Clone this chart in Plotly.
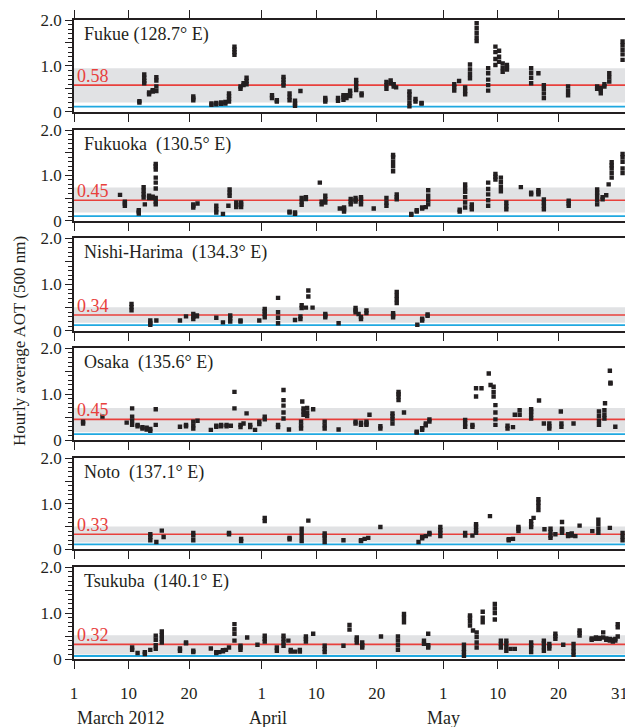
import plotly.graph_objects as go

# ---------------- data (day index: 1 = 1 March 2012, 32 = 1 April, 62 = 1 May, 92 = 31 May)
stations = ["Fukue\u00a0(128.7° E)", "Fukuoka\u00a0\u00a0(130.5° E)", "Nishi-Harima\u00a0\u00a0(134.3° E)",
            "Osaka\u00a0\u00a0(135.6° E)", "Noto\u00a0\u00a0(137.1° E)", "Tsukuba\u00a0\u00a0(140.1° E)"]
mean_aot = [0.58, 0.45, 0.34, 0.45, 0.33, 0.32]
band_low = [0.20, 0.18, 0.17, 0.17, 0.15, 0.10]
band_high = [0.95, 0.73, 0.51, 0.70, 0.50, 0.52]
baseline = [0.11, 0.10, 0.12, 0.13, 0.11, 0.065]

fukue_days = [11.8, 12.6, 13.4, 14.0, 14.6, 20.7, 23.7, 24.5, 25.3, 26.0, 26.6, 27.5, 28.5, 29.0, 29.5,
              33.7, 34.5, 35.6, 36.6, 37.5, 38.4, 42.5, 44.6, 45.5, 46.0, 46.6, 47.6, 48.5, 52.6, 53.3,
              53.8, 54.2, 56.4, 57.4, 58.4, 63.8, 64.6, 65.6, 66.4, 67.5, 69.4, 70.6, 71.2, 71.8, 72.5,
              76.5, 77.7, 78.6, 82.6, 87.4, 88.0, 88.6, 89.4, 91.6]
fukue_aot = [[0.20, 0.23], [0.62, 0.67, 0.74, 0.81], [0.38, 0.42], [0.44, 0.47], [0.45, 0.55, 0.68, 0.75],
             [0.25, 0.29, 0.33], [0.15, 0.18], [0.16, 0.19], [0.17, 0.20], [0.18, 0.21], [0.22, 0.28, 0.34, 0.40],
             [1.24, 1.30, 1.36, 1.42], [0.50, 0.55], [0.58, 0.62], [0.60, 0.67, 0.74],
             [0.30, 0.36], [0.22, 0.25], [0.57, 0.63, 0.70, 0.76], [0.25, 0.32, 0.40], [0.13, 0.18, 0.24],
             [0.45], [0.22, 0.26, 0.30], [0.24, 0.30], [0.26, 0.32, 0.36], [0.30, 0.36], [0.34, 0.40, 0.46],
             [0.47, 0.55, 0.62, 0.69], [0.36, 0.40], [0.50, 0.58, 0.65], [0.62, 0.68],
             [0.55, 0.60], [0.53], [0.12, 0.20, 0.30, 0.38, 0.44], [0.22, 0.28], [0.18, 0.19],
             [0.46, 0.54, 0.60], [0.67], [0.38, 0.45, 0.53], [0.73, 0.82, 0.92, 1.03],
             [1.54, 1.62, 1.72, 1.82, 1.93], [0.46, 0.58, 0.70, 0.84, 0.95], [1.02, 1.15, 1.30, 1.42],
             [1.09, 1.20, 1.33], [0.87, 0.95, 1.05], [0.92, 0.97, 1.02],
             [0.62, 0.74, 0.85, 0.95], [0.84], [0.30, 0.40, 0.50, 0.58], [0.36, 0.45, 0.55],
             [0.50, 0.55], [0.40, 0.47, 0.52], [0.55, 0.60], [0.66, 0.75, 0.84], [1.13, 1.25, 1.35, 1.45, 1.53]]

fukuoka_days = [8.6, 9.4, 11.7, 12.5, 12.7, 13.4, 14.0, 14.5, 20.7, 21.4, 24.5, 25.6, 26.5, 26.7, 27.8, 28.6,
                36.6, 37.5, 38.6, 39.3, 41.6, 41.9, 42.5, 44.9, 45.6, 46.7, 47.5, 48.4, 50.5, 52.6, 53.7,
                54.3, 56.7, 57.6, 58.5, 59.1, 59.5, 64.7, 65.6, 66.7, 69.4, 70.6, 71.5, 72.4, 74.8, 76.5,
                77.7, 78.6, 82.7, 87.4, 88.3, 88.9, 89.3, 89.8, 91.6]
fukuoka_aot = [[0.57], [0.33, 0.38, 0.42], [0.16, 0.20, 0.23], [0.51, 0.58, 0.66, 0.74], [0.36], [0.50, 0.55],
               [0.50, 0.53], [1.13, 1.20, 1.25, 0.95, 0.84, 0.71, 0.50, 0.42, 0.36], [0.29, 0.33, 0.36], [0.38],
               [0.18, 0.25, 0.33], [0.15], [0.33], [0.55, 0.62, 0.69], [0.30, 0.35, 0.40], [0.30, 0.36, 0.40],
               [0.18, 0.20], [0.15, 0.18], [0.35, 0.42, 0.50], [0.52, 0.48], [0.84], [0.36, 0.42],
               [0.40, 0.47, 0.55], [0.27], [0.20, 0.25, 0.29], [0.36, 0.42, 0.48], [0.42, 0.46, 0.50],
               [0.36, 0.42, 0.48, 0.52], [0.27], [0.33, 0.40, 0.50], [1.09, 1.20, 1.30, 1.40, 1.45],
               [0.47, 0.52, 0.58], [0.13, 0.15], [0.20, 0.23], [0.27, 0.29], [0.30], [0.36, 0.45, 0.55, 0.67],
               [0.20, 0.24], [0.29, 0.40, 0.52, 0.64, 0.72, 0.80], [0.25, 0.30, 0.36], [0.33, 0.45, 0.58, 0.70, 0.84],
               [0.91, 0.97, 1.03], [0.65, 0.75, 0.85, 0.95], [0.25, 0.32, 0.40], [0.74], [0.58, 0.62],
               [0.58, 0.63, 0.67], [0.25, 0.33, 0.40, 0.47], [0.33, 0.38, 0.44], [0.36, 0.45, 0.55, 0.62, 0.69],
               [0.47, 0.52], [0.56], [0.80], [0.95, 1.05, 1.15, 1.22, 1.29], [1.05, 1.15, 1.30, 1.40, 1.47]]

nishi_days = [10.5, 13.6, 14.6, 18.5, 19.5, 20.7, 21.3, 24.5, 25.6, 26.8, 28.5, 31.6, 32.5, 34.7, 37.5, 38.4,
              38.6, 39.3, 39.7, 40.4, 42.5, 44.7, 47.5, 48.0, 48.4, 49.3, 53.7, 54.3, 57.7, 58.5, 59.4]
nishi_aot = [[0.44, 0.51, 0.58], [0.13, 0.17, 0.22], [0.22], [0.22], [0.31], [0.25, 0.30, 0.36], [0.33, 0.31],
             [0.28], [0.18], [0.20, 0.27, 0.33], [0.20, 0.22], [0.22], [0.29, 0.36, 0.42, 0.47],
             [0.71, 0.40, 0.28, 0.16], [0.23], [0.25, 0.31], [0.49, 0.55], [0.50], [0.74, 0.87], [0.50],
             [0.29, 0.33, 0.36], [0.16], [0.40, 0.44, 0.49], [0.36], [0.25, 0.30], [0.38, 0.44],
             [0.29, 0.34, 0.38], [0.60, 0.68, 0.76, 0.84], [0.13], [0.22, 0.26], [0.32, 0.35]]

osaka_days = [2.5, 5.7, 9.7, 10.6, 11.5, 12.3, 13.0, 13.6, 14.5, 18.5, 19.5, 20.7, 21.4, 23.6, 24.5, 25.3, 26.2,
              26.9, 27.5, 28.5, 29.0, 29.5, 30.1, 30.9, 31.6, 32.5, 34.7, 35.6, 36.5, 38.5, 38.7, 38.9, 39.5,
              40.5, 42.4, 44.7, 47.5, 48.4, 49.3, 49.8, 51.6, 53.6, 54.6, 55.5, 57.6, 58.5, 59.1, 59.7, 65.6,
              66.8, 67.4, 68.3, 69.5, 69.8, 70.3, 70.6, 72.6, 73.5, 73.8, 74.6, 76.5, 77.8, 78.6, 79.5, 81.4,
              81.5, 83.5, 87.7, 88.6, 88.7, 89.5, 89.6, 90.4]
osaka_aot = [[0.36, 0.40], [0.51], [0.38], [0.69, 0.51, 0.42, 0.33], [0.33, 0.30], [0.28, 0.25], [0.23, 0.27],
             [0.20, 0.24], [0.67, 0.33], [0.29], [0.33, 0.30], [0.25, 0.32, 0.40], [0.42], [0.22], [0.29, 0.31],
             [0.30, 0.33], [0.30, 0.33], [0.31], [1.05, 0.69], [0.28, 0.33], [0.36], [0.58], [0.33, 0.28],
             [0.22], [0.35, 0.40], [0.45, 0.51], [0.33, 0.28], [1.09, 0.87, 0.75, 0.60, 0.47], [0.23],
             [0.25, 0.32, 0.40], [0.84], [0.55, 0.62, 0.69], [0.52, 0.60, 0.70], [0.67], [0.25, 0.32, 0.40],
             [0.23], [0.40, 0.36], [0.33, 0.38], [0.33, 0.36, 0.40], [0.55], [0.25, 0.30],
             [0.36, 0.45, 0.52, 0.58], [0.87, 0.95, 1.00, 1.05], [0.60], [0.16, 0.18], [0.22, 0.26],
             [0.32, 0.36], [0.40, 0.45], [0.29, 0.36, 0.44], [0.33, 0.29], [0.95, 1.13], [1.13], [1.45],
             [1.20], [0.95, 1.05, 1.16], [0.76, 0.60, 0.45, 0.33], [0.25, 0.31], [0.28], [0.55], [0.55, 0.65],
             [0.47, 0.55, 0.62, 0.67], [0.86], [0.36], [0.25, 0.30, 0.36], [0.62], [0.29, 0.36], [0.36],
             [0.33, 0.42, 0.52, 0.62], [0.47, 0.55, 0.65], [0.80], [1.51], [1.25, 1.23], [0.29]]

noto_days = [13.6, 14.6, 15.5, 15.8, 20.7, 26.6, 28.6, 32.5, 36.6, 38.6, 39.7, 42.4, 45.5, 48.4, 49.0, 49.6,
             51.6, 57.9, 58.5, 59.1, 59.7, 61.5, 65.6, 66.8, 67.4, 69.7, 72.8, 73.5, 74.4, 76.5, 76.9, 77.7,
             78.7, 79.7, 80.5, 81.6, 82.6, 83.2, 83.8, 84.5, 86.6, 87.6, 89.5, 91.6]
noto_aot = [[0.20, 0.27, 0.33], [0.16], [0.41], [0.27], [0.30, 0.36, 0.20], [0.36, 0.33], [0.18, 0.23],
            [0.62, 0.69], [0.25, 0.22], [0.18, 0.27, 0.36, 0.45], [0.63], [0.25, 0.30, 0.35, 0.16], [0.20],
            [0.20, 0.18], [0.23], [0.25], [0.49], [0.16], [0.24, 0.27], [0.29], [0.33, 0.36],
            [0.29, 0.36, 0.42, 0.49], [0.30, 0.36], [0.30], [0.36, 0.42, 0.50, 0.55], [0.73], [0.20, 0.22],
            [0.23], [0.40, 0.45, 0.49], [0.49, 0.55, 0.62], [0.69], [0.95, 1.03, 1.10, 0.86], [0.44],
            [0.25, 0.30, 0.38, 0.45], [0.33], [0.60, 0.36, 0.41, 0.45], [0.29, 0.33], [0.30, 0.35], [0.29],
            [0.52], [0.40], [0.36, 0.45, 0.55, 0.65], [0.47], [0.20, 0.28, 0.36]]

tsukuba_days = [10.6, 11.5, 12.7, 13.6, 14.5, 15.5, 18.5, 19.5, 20.7, 23.6, 24.5, 25.0, 25.6, 26.1, 26.6, 27.5,
                28.5, 29.6, 31.3, 32.5, 34.5, 35.6, 36.4, 36.8, 37.5, 38.3, 39.3, 40.5, 42.4, 45.5, 46.5, 47.7,
                48.6, 51.7, 54.5, 55.5, 58.8, 59.5, 65.4, 66.4, 66.9, 67.5, 68.5, 70.5, 71.5, 72.4, 73.1, 73.8,
                76.5, 78.6, 79.5, 80.5, 81.8, 83.5, 84.5, 86.5, 87.2, 87.8, 88.4, 88.9, 89.5, 90.0, 90.4, 90.8]
tsukuba_aot = [[0.25, 0.20], [0.13], [0.15, 0.11], [0.20], [0.22, 0.30, 0.42, 0.51], [0.36, 0.44, 0.52, 0.60],
               [0.18, 0.23], [0.36, 0.34], [0.15, 0.18], [0.23], [0.15, 0.13], [0.15], [0.17, 0.19], [0.20],
               [0.25], [0.40, 0.55, 0.65, 0.76], [0.20, 0.25, 0.29], [0.47], [0.31], [0.38, 0.44, 0.51],
               [0.18, 0.25], [0.29, 0.36, 0.44, 0.51], [0.40], [0.20, 0.16], [0.16], [0.16, 0.20],
               [0.38, 0.44, 0.49], [0.55], [0.15, 0.22, 0.29], [0.29], [0.74, 0.64], [0.36, 0.42, 0.47],
               [0.25, 0.30, 0.36], [0.49], [0.20, 0.30, 0.40, 0.49], [0.80, 0.90, 0.98], [0.33, 0.40],
               [0.55, 0.30, 0.25], [0.07, 0.15, 0.22, 0.31], [0.73, 0.82, 0.90, 0.95], [0.62],
               [0.25, 0.36, 0.48, 0.58], [0.80, 0.90, 1.03], [0.86, 1.00, 1.10, 1.20], [0.25, 0.33, 0.40],
               [0.18, 0.26, 0.34, 0.40], [0.22], [0.22], [0.15, 0.24, 0.30, 0.36], [0.18, 0.26, 0.34, 0.40],
               [0.23, 0.28, 0.33], [0.44, 0.50, 0.55], [0.31], [0.09, 0.16, 0.24, 0.33], [0.51, 0.57, 0.62],
               [0.42, 0.45], [0.44, 0.47], [0.44, 0.46], [0.58, 0.47], [0.42, 0.45], [0.40, 0.44],
               [0.38, 0.42], [0.40, 0.44], [0.49, 0.69, 0.76]]

x_tickvals = [1, 10, 20, 32, 41, 51, 62, 71, 81, 92]
x_ticktext = ["1", "10", "20", "1", "10", "20", "1", "10", "20", "31"]
month_labels = ["March 2012", "April", "May"]
month_pos = [8.6, 33.0, 62.1]

all_days = [fukue_days, fukuoka_days, nishi_days, osaka_days, noto_days, tsukuba_days]
all_aot = [fukue_aot, fukuoka_aot, nishi_aot, osaka_aot, noto_aot, tsukuba_aot]

# ---------------- layout geometry (page body has an 8 px margin, so work in shifted pixels)
OFF = 8
W, H = 633 - OFF, 727 - OFF
ML, MR, MT, MB = 74 - OFF, 8, 20 - OFF, 727 - 659
panel_ref = [(20, 111.7), (130, 220.7), (238.3, 330.7), (348.3, 440), (458.3, 549.3), (567.3, 659)]
ph = H - MT - MB
def dom(top, bot):
    top, bot = top - OFF, bot - OFF
    return [(H - MB - bot) / ph, (H - MB - top) / ph]
def ypaper(yref_px):
    return (H - MB - (yref_px - OFF)) / ph

FONT = "Liberation Serif"
INK = "#231f20"
RED = "#e8403c"
CYAN = "#1fa8e0"
GRAY = "#e1e2e4"

fig = go.Figure()
layout = dict(width=W, height=H, margin=dict(l=ML, r=MR, t=MT, b=MB, autoexpand=False),
              plot_bgcolor="white", paper_bgcolor="white", showlegend=False,
              font=dict(family=FONT, size=16, color=INK))
shapes, annotations = [], []

# last tick label sits at the very edge of the page: drawn as an annotation instead
axis_ticktext = x_ticktext[:-1] + [""]

for i in range(6):
    n = i + 1
    xa, ya = f"x{n}" if n > 1 else "x", f"y{n}" if n > 1 else "y"
    xs, ys = [], []
    for d, vals in zip(all_days[i], all_aot[i]):
        for v in vals:
            xs.append(d)
            ys.append(v)
    fig.add_trace(go.Scatter(x=xs, y=ys, mode="markers", xaxis=xa, yaxis=ya,
                             marker=dict(symbol="square", size=4.4, color=INK, line=dict(width=0)),
                             hoverinfo="x+y"))
    layout[f"xaxis{n}" if n > 1 else "xaxis"] = dict(
        domain=[0, 1], anchor=ya, range=[1, 92], tickmode="array", tickvals=x_tickvals,
        ticktext=axis_ticktext, showticklabels=(n == 6), ticks="outside", ticklen=8, tickwidth=1.2,
        tickcolor=INK, showline=True, linecolor=INK, linewidth=1.6,
        mirror=("ticks" if n == 1 else True), showgrid=False, zeroline=False,
        tickfont=dict(family=FONT, size=17), ticklabelstandoff=10)
    layout[f"yaxis{n}" if n > 1 else "yaxis"] = dict(
        domain=dom(*panel_ref[i]), anchor=xa, range=[0, 2], tickmode="linear", tick0=0, dtick=0.5,
        tickformat=".1f", labelalias={"0.0": "0", "0.5": " ", "1.5": " "},
        ticks="outside", ticklen=7, tickwidth=1.2, tickcolor=INK,
        minor=dict(tickmode="linear", tick0=0, dtick=0.1, ticks="outside", ticklen=4, tickwidth=1,
                   tickcolor=INK, showgrid=False),
        showline=True, linecolor=INK, linewidth=1.6, mirror="ticks", showgrid=False, zeroline=False,
        tickfont=dict(family=FONT, size=17))
    xd, yr = f"{xa} domain", ya
    shapes.append(dict(type="rect", xref=xd, yref=yr, x0=0, x1=1, y0=band_low[i], y1=band_high[i],
                       fillcolor=GRAY, line=dict(width=0), layer="below"))
    shapes.append(dict(type="line", xref=xd, yref=yr, x0=0, x1=1, y0=mean_aot[i], y1=mean_aot[i],
                       line=dict(color=RED, width=1.6), layer="below"))
    shapes.append(dict(type="line", xref=xd, yref=yr, x0=0, x1=1, y0=baseline[i], y1=baseline[i],
                       line=dict(color=CYAN, width=1.8), layer="below"))
    annotations.append(dict(text=stations[i], xref=xd, yref=f"{ya} domain", x=0, y=1,
                            xanchor="left", yanchor="top", xshift=8, yshift=-2, showarrow=False,
                            font=dict(family=FONT, size=18, color=INK)))
    annotations.append(dict(text=f"{mean_aot[i]:.2f}", xref=xd, yref=yr, x=0, y=mean_aot[i],
                            xanchor="left", yanchor="bottom", xshift=1, yshift=-3, showarrow=False,
                            font=dict(family=FONT, size=18, color=RED)))

annotations.append(dict(text=x_ticktext[-1], xref="x6", yref="paper", x=x_tickvals[-1], y=ypaper(693),
                        xanchor="right", yanchor="middle", xshift=5, showarrow=False,
                        font=dict(family=FONT, size=17, color=INK)))

for lab, pos in zip(month_labels, month_pos):
    annotations.append(dict(text=lab, xref="x6", yref="paper", x=pos, y=ypaper(718),
                            xanchor="center", yanchor="middle", showarrow=False,
                            font=dict(family=FONT, size=18, color=INK)))

annotations.append(dict(text="Hourly average AOT (500 nm)", xref="paper", yref="paper",
                        x=(20 - 74) / (W - ML - MR), y=ypaper(341), textangle=-90,
                        xanchor="center", yanchor="middle", showarrow=False,
                        font=dict(family=FONT, size=17, color=INK)))

layout["shapes"] = shapes
layout["annotations"] = annotations
fig.update_layout(**layout)
fig.write_html("out.html")
